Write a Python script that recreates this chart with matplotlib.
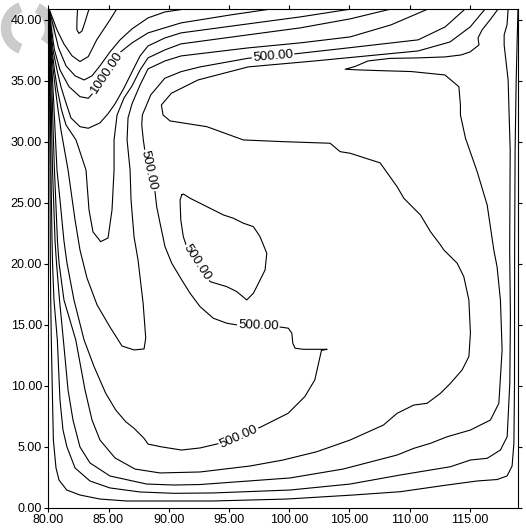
import matplotlib
matplotlib.use("Agg")
import matplotlib.pyplot as plt
from matplotlib.patches import Arc
from matplotlib.transforms import IdentityTransform

plt.rcParams["font.family"] = ["Liberation Sans", "DejaVu Sans"]

# ---------------------------------------------------------------
# Stream-function isolines (longitude, latitude) and their levels
# ---------------------------------------------------------------
level_a = 100
line_a_x = [80.05, 80.08, 80.11, 80.14, 80.17, 80.20, 80.25, 80.35, 80.42, 80.64, 80.89, 81.53, 82.63, 84.29,
            86.51, 93.68, 99.80, 105.31, 109.21, 113.11, 115.60, 117.26, 118.09, 118.51, 118.66, 118.71,
            118.72, 118.76, 118.85, 118.93, 119.0]
line_a_y = [40.66, 36.72, 33.44, 27.70, 20.07, 17.04, 13.76, 8.83, 5.55, 3.26, 2.27, 1.45, 1.04, 0.71,
            0.55, 0.55, 0.71, 1.04, 1.31, 1.86, 2.19, 2.31, 2.60, 3.42, 5.31, 10.23,
            21.14, 29.34, 35.08, 38.37, 40.9]

level_b = 200
line_b_x = [80.07, 80.12, 80.17, 80.19, 80.22, 80.31, 80.35, 80.47, 80.75, 80.97, 81.22, 81.55, 82.22, 83.46,
            85.12, 87.62, 90.44, 93.68, 100.08, 105.06, 109.21, 111.73, 113.39, 115.05, 116.44, 117.54,
            118.10, 118.32, 118.37, 118.31, 118.35, 118.18, 117.85, 117.85, 118.09, 118.18]
line_b_y = [40.50, 36.72, 33.44, 30.98, 27.70, 21.88, 20.07, 17.04, 13.76, 8.83, 6.37, 4.98, 3.26, 2.19,
            1.62, 1.29, 1.18, 1.21, 1.45, 1.94, 2.68, 3.09, 3.36, 3.91, 4.05, 4.73,
            5.82, 10.23, 15.67, 21.14, 29.34, 35.08, 37.95, 38.78, 39.60, 40.9]

level_c = 300
line_c_x = [80.08, 80.17, 80.24, 80.28, 80.35, 80.56, 80.68, 80.93, 81.25, 81.64, 82.05, 82.63, 83.46, 85.12,
            88.17, 90.44, 92.60, 100.08, 104.48, 108.96, 110.35, 111.73, 113.12, 115.05, 116.71, 117.41,
            117.68, 117.54, 117.26, 116.99, 116.44, 115.61, 114.64, 114.22, 114.22, 114.09, 112.93, 110.15,
            107.39, 105.89, 104.65, 105.45, 106.55, 108.38, 110.70, 112.94, 114.27, 115.02, 115.76, 115.68,
            116.02, 116.68, 117.35]
line_c_y = [40.33, 36.72, 33.44, 30.98, 27.70, 21.88, 20.07, 17.04, 13.76, 9.65, 7.19, 4.98, 3.67, 2.60,
            1.94, 1.86, 1.90, 2.44, 3.17, 4.32, 4.87, 5.28, 5.82, 6.37, 7.19, 8.56,
            12.94, 17.04, 19.77, 21.14, 24.83, 27.56, 30.30, 32.21, 33.03, 34.53, 35.49, 35.77,
            35.85, 35.90, 35.96, 36.18, 36.64, 36.85, 36.89, 36.97, 37.13, 37.38, 37.95, 38.53,
            39.19, 40.01, 40.9]

level_d = 400
line_d_x = [80.10, 80.22, 80.33, 80.40, 80.51, 80.76, 80.89, 81.30, 82.28, 83.05, 83.63, 84.29, 85.54, 87.20,
            89.28, 92.60, 96.75, 99.49, 102.29, 105.06, 107.83, 108.96, 110.35, 111.45, 112.56, 113.39,
            114.36, 114.92, 115.05, 114.92, 114.50, 113.95, 112.84, 112.56, 111.73, 110.90, 110.07, 109.52,
            108.96, 107.55, 105.06, 104.23, 103.40, 99.52, 96.20, 93.16, 91.33, 90.11, 89.53, 89.39,
            90.22, 92.43, 96.59, 102.13, 110.71, 113.36, 115.03, 116.27]
line_d_y = [40.17, 36.72, 33.44, 30.98, 27.70, 21.88, 20.07, 17.04, 13.76, 9.65, 7.19, 5.55, 4.08, 3.17,
            2.85, 2.93, 3.42, 3.91, 4.59, 5.55, 6.78, 7.74, 8.42, 8.56, 9.38, 10.20,
            11.30, 12.39, 14.31, 17.04, 18.95, 20.05, 21.14, 21.55, 22.64, 24.01, 24.83, 25.38,
            26.33, 28.28, 29.07, 29.20, 29.89, 30.02, 30.16, 31.25, 31.53, 31.72, 32.21, 33.03,
            33.99, 35.08, 36.15, 36.64, 37.46, 38.20, 39.43, 40.9]

level_g = 500
line_g_x = [114.61, 112.95, 110.71, 104.89, 100.47, 98.66, 96.59, 92.60, 91.02, 89.67, 88.51, 87.81, 87.76,
            87.89, 88.03, 88.20, 88.31, 88.53, 88.86, 89.00, 89.28, 89.69, 90.25, 91.08, 91.77, 92.60,
            93.70, 94.82, 95.65, 97.44, 99.39, 99.93, 100.22, 100.30, 100.49, 101.18, 103.15, 102.68,
            102.13, 101.30, 99.91, 97.69, 95.81, 94.24, 92.60, 91.05, 89.34, 88.28, 87.95, 87.12,
            86.43, 85.60, 84.77, 83.80, 82.97, 82.13, 81.55, 81.30, 80.97, 80.72, 80.56, 80.44, 80.26, 80.11]
line_g_y = [40.9, 39.43, 38.37, 37.71, 37.22, 37.05, 36.86, 36.15, 35.76, 35.22, 33.86, 32.21, 31.39,
            30.16, 29.20, 28.51, 27.64, 26.80, 25.92, 24.69, 23.33, 21.41, 20.05, 18.68, 17.59, 16.49,
            15.54, 15.13, 14.99, 14.95, 14.80, 14.72, 14.31, 13.49, 13.08, 12.99, 12.99, 12.90,
            10.48, 9.11, 7.74, 6.64, 5.82, 5.28, 4.90, 4.73, 5.00, 5.22, 5.69, 6.51,
            7.05, 8.01, 9.38, 11.57, 13.76, 17.04, 20.07, 21.88, 25.24, 27.70, 30.98, 33.44, 36.72, 40.17]

level_loop = 500
line_loop_x = [91.08, 90.94, 91.00, 91.21, 91.44, 92.38, 93.43, 94.82, 95.65, 96.48, 97.03, 97.31, 98.00,
               98.14, 97.58, 97.03, 96.20, 95.37, 94.54, 93.71, 92.60, 91.77, 91.21, 91.08]
line_loop_y = [25.65, 25.24, 23.60, 22.23, 21.55, 20.10, 18.54, 18.13, 17.72, 17.04, 17.59, 18.13, 19.50,
               20.87, 22.23, 23.05, 23.33, 23.74, 24.01, 24.42, 24.97, 25.38, 25.73, 25.65]

level_u = 600
line_u_x = [80.06, 80.13, 80.25, 80.41, 80.60, 80.81, 81.05, 81.64, 82.22, 82.63, 83.21, 84.05, 85.12, 86.12,
            87.12, 87.95, 88.09, 87.87, 87.45, 87.12, 86.87, 86.79, 86.54, 86.62, 86.95, 87.62, 88.28,
            89.69, 91.02, 96.59, 100.91, 105.06, 108.46, 111.53]
line_u_y = [40.58, 39.19, 37.55, 35.90, 34.26, 32.62, 30.98, 27.70, 23.60, 21.14, 18.84, 16.63, 14.82, 13.26,
            12.94, 13.02, 13.92, 16.79, 20.32, 22.21, 25.24, 27.70, 30.16, 31.97, 33.12, 34.67, 35.99,
            36.64, 37.05, 37.71, 38.12, 38.61, 39.60, 40.9]

level_v21 = 700
line_v21_x = [80.07, 80.17, 80.31, 80.51, 80.76, 81.10, 81.47, 82.30, 83.13, 83.38, 83.71, 84.35, 84.96,
              85.29, 85.46, 85.46, 85.71, 86.29, 86.95, 87.62, 88.28, 89.69, 91.02, 96.59, 100.91, 105.06,
              108.46]
line_v21_y = [40.58, 39.19, 37.55, 35.90, 34.26, 32.62, 31.39, 30.16, 27.70, 24.42, 22.62, 21.82, 22.12,
              24.42, 27.70, 30.16, 32.21, 33.61, 34.59, 35.90, 36.89, 37.55, 38.04, 38.78, 39.35, 40.09,
              40.9]

level_v4 = 900
line_v4_x = [80.09, 80.21, 80.39, 80.72, 81.05, 81.39, 81.88, 82.63, 83.32, 84.29, 84.95, 85.54, 86.29,
             86.95, 87.62, 88.28, 89.69, 91.02, 96.59, 100.91, 105.15]
line_v4_y = [40.66, 39.19, 37.55, 35.90, 34.53, 33.44, 31.97, 31.25, 31.12, 31.56, 32.30, 33.12, 34.43,
             35.74, 37.05, 37.87, 38.53, 38.94, 39.68, 40.25, 40.9]

level_v3 = 1000
line_v3_x = [80.11, 80.27, 80.51, 80.97, 81.72, 82.63, 83.32, 83.65, 84.83, 86.01, 86.95, 88.28, 91.02,
             95.17, 98.50]
line_v3_y = [40.66, 39.19, 37.55, 35.90, 34.53, 33.71, 33.58, 33.94, 35.66, 37.38, 38.12, 38.94, 39.76,
             40.42, 40.9]

level_v2b = 1100
line_v2b_x = [80.12, 80.39, 80.85, 81.47, 82.22, 82.97, 83.63, 84.29, 85.12, 85.96, 86.95, 88.28, 89.69, 91.35]
line_v2b_y = [40.66, 39.60, 37.71, 36.24, 35.42, 35.08, 35.42, 36.24, 37.38, 38.37, 39.27, 40.17, 40.66, 40.9]

level_v2 = 1200
line_v2_x = [80.08, 80.22, 80.72, 81.30, 81.97, 82.63, 83.32, 84.02, 85.12, 85.68]
line_v2_y = [40.9, 40.50, 39.19, 38.03, 37.06, 36.59, 37.00, 38.37, 40.01, 40.9]

level_v1 = 1300
line_v1_x = [82.43, 82.38, 82.37, 82.55, 82.80, 83.05, 83.38]
line_v1_y = [40.9, 40.01, 39.19, 38.90, 39.10, 39.84, 40.9]

isolines = {
    "a": (level_a, line_a_x, line_a_y),
    "b": (level_b, line_b_x, line_b_y),
    "c": (level_c, line_c_x, line_c_y),
    "d": (level_d, line_d_x, line_d_y),
    "g": (level_g, line_g_x, line_g_y),
    "loop": (level_loop, line_loop_x, line_loop_y),
    "u": (level_u, line_u_x, line_u_y),
    "v21": (level_v21, line_v21_x, line_v21_y),
    "v4": (level_v4, line_v4_x, line_v4_y),
    "v3": (level_v3, line_v3_x, line_v3_y),
    "v2b": (level_v2b, line_v2b_x, line_v2b_y),
    "v2": (level_v2, line_v2_x, line_v2_y),
    "v1": (level_v1, line_v1_x, line_v1_y),
}

# labelled isolines: (isoline, vertex the label sits on, text angle in degrees)
label_line = ["g", "g", "g", "g", "loop", "v3"]
label_vertex = [5, 16, 29, 42, 5, 8]
label_angle = [5, -78, -2, 24, -57, 56]

x_ticks = [80, 85, 90, 95, 100, 105, 110, 115]
y_ticks = [0, 5, 10, 15, 20, 25, 30, 35, 40]

# ---------------------------------------------------------------
W, H = 526, 532
fig = plt.figure(figsize=(W / 100, H / 100), dpi=100, facecolor="white")
ax = fig.add_axes([48.3 / W, (H - 507.7) / H, (518 - 48.3) / W, (507.7 - 9) / H])
ax.patch.set_visible(False)

# faint grey mark in the upper-left corner
for t1, t2 in [(110, 250), (-40, 65)]:
    fig.add_artist(Arc((28, H - 28), 44, 44, theta1=t1, theta2=t2, lw=7.5,
                       color="#cbcbcb", transform=IdentityTransform(), zorder=-1))

for level, xs, ys in isolines.values():
    ax.plot(xs, ys, color="black", lw=0.8, solid_joinstyle="round")

for key, idx, ang in zip(label_line, label_vertex, label_angle):
    level, xs, ys = isolines[key]
    ax.text(xs[idx], ys[idx], f"{level:.2f}", rotation=ang, rotation_mode="anchor",
            ha="center", va="center", fontsize=9.5, color="black", zorder=5,
            bbox=dict(boxstyle="square,pad=0.08", fc="white", ec="none"))

ax.set_xlim(80, 119)
ax.set_ylim(0, 40.9)
ax.set_xticks(x_ticks)
ax.set_xticklabels([f"{v:.2f}" for v in x_ticks])
ax.set_yticks(y_ticks)
ax.set_yticklabels([f"{v:.2f}" for v in y_ticks])
ax.tick_params(direction="out", length=3, width=0.8, top=True, right=True,
               labeltop=False, labelright=False, labelsize=9, pad=1.5)
for s in ax.spines.values():
    s.set_linewidth(0.8)

fig.savefig("out.png", dpi=100)
